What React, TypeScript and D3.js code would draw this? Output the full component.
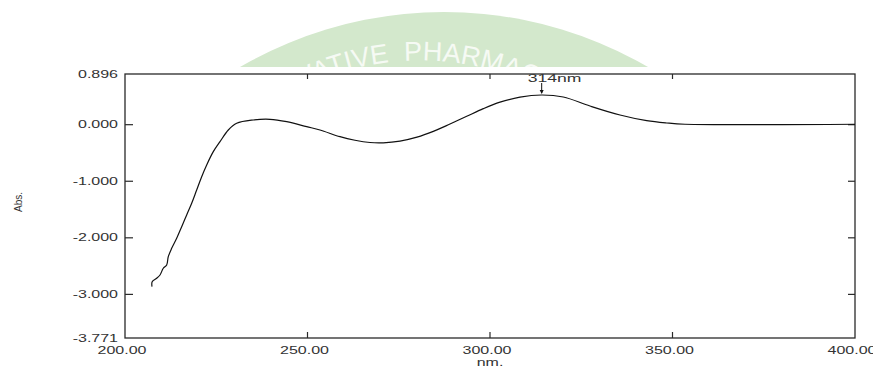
import React from 'react';
import * as d3 from 'd3';

// spectrum (wavelength nm / absorbance)
const wavelengths = [207.4, 207.45, 208.68, 209.59, 210.49, 211.42, 211.86, 212.79, 214.16, 215.53, 216.9, 218.27,
  219.64, 221.01, 222.38, 224.19, 226.03, 228.3, 230.6, 235.15, 239.73, 244.3, 249.78, 253.42, 258.9, 263.0, 267.12,
  270.77, 275.34, 280.0, 284.47, 289.04, 293.62, 298.16, 302.74, 308.22, 314.16, 320.08, 327.4, 335.62, 342.93,
  348.41, 353.42, 400];
const absorbance = [-2.864, -2.775, -2.715, -2.657, -2.538, -2.48, -2.333, -2.185, -2.008, -1.803, -1.596, -1.389,
  -1.154, -0.919, -0.712, -0.477, -0.3, -0.094, 0.025, 0.083, 0.095, 0.053, -0.035, -0.094, -0.212, -0.275, -0.315,
  -0.32, -0.29, -0.22, -0.118, 0.012, 0.148, 0.283, 0.398, 0.488, 0.525, 0.49, 0.33, 0.171, 0.071,
  0.03, 0.008, 0.008];

const xTicks = [200, 250, 300, 350, 400];
const yTicks = [0.896, 0, -1, -2, -3, -3.771];
const innerYTicks = [0, -1, -2, -3];
const innerXTicks = [250, 300, 350];
const peak = { nm: 314.16, abs: 0.525, label: '314nm' };

const width = 873;
const height = 366;
const margin = { top: 74, right: 18, bottom: 28, left: 125 };

export default function App() {
  const x = d3.scaleLinear().domain([200, 400]).range([margin.left, width - margin.right]);
  const y = d3.scaleLinear().domain([-3.771, 0.896]).range([height - margin.bottom, margin.top]);

  const pts: [number, number][] = wavelengths.map((w, i) => [w, absorbance[i]]);
  const line = d3.line<[number, number]>()
    .x(d => x(d[0]))
    .y(d => y(d[1]))
    .curve(d3.curveCatmullRom.alpha(0.5));

  const x0 = x(200), x1 = x(400), y0 = y(0.896), y1 = y(-3.771);
  const labelFont = 'Liberation Sans, Arial, sans-serif';
  const stretch = 'scale(1.6,1)';

  // watermark: green disc + text bent round an arc
  const wmCx = 444, wmCy = 418, wmR = 406;
  const tCx = 420, tCy = 331, tR = 270.5;
  const a0 = -26 * Math.PI / 180, a1 = 60 * Math.PI / 180;
  const arcD = `M${tCx + tR * Math.sin(a0)},${tCy - tR * Math.cos(a0)} A${tR},${tR} 0 0 1 ${tCx + tR * Math.sin(a1)},${tCy - tR * Math.cos(a1)}`;

  return (
    <svg width={width} height={height} style={{ position: 'absolute', left: 0, top: 0, background: '#fff' }}>
      <defs>
        <clipPath id="wm-clip">
          <rect x={0} y={0} width={width} height={67} />
        </clipPath>
        <path id="wm-arc" d={arcD} />
      </defs>

      <g clipPath="url(#wm-clip)">
        <circle cx={wmCx} cy={wmCy} r={wmR} fill="#d3e8cc" />
        <text fontFamily={labelFont} fontSize={27} fill="#f6faf4" style={{ whiteSpace: 'pre' }}>
          <textPath href="#wm-arc">VATIVE  PHARMAC</textPath>
        </text>
      </g>

      <rect x={x0} y={y0} width={x1 - x0} height={y1 - y0} fill="none" stroke="#2a2a2a" strokeWidth={1.3} />

      {innerYTicks.map(t => (
        <g key={'yt' + t} stroke="#2a2a2a" strokeWidth={1.2}>
          <line x1={x0} x2={x0 + 8} y1={y(t)} y2={y(t)} />
          <line x1={x1} x2={x1 - 7} y1={y(t)} y2={y(t)} />
        </g>
      ))}
      {innerXTicks.map(t => (
        <g key={'xt' + t} stroke="#2a2a2a" strokeWidth={1.2}>
          <line x1={x(t)} x2={x(t)} y1={y1} y2={y1 - 6} />
          <line x1={x(t)} x2={x(t)} y1={y0} y2={y0 + 5} />
        </g>
      ))}

      {yTicks.map(t => (
        <text key={'yl' + t} transform={`translate(118,${y(t) + 3.6}) ${stretch}`} textAnchor="end"
          fontFamily={labelFont} fontSize={10} fill="#333">
          {t.toFixed(3)}
        </text>
      ))}
      {xTicks.map(t => (
        <text key={'xl' + t} transform={`translate(${x(t) - 3},${y1 + 16}) ${stretch}`} textAnchor="middle"
          fontFamily={labelFont} fontSize={10} fill="#333">
          {t.toFixed(2)}
        </text>
      ))}
      <text transform={`translate(490,366) ${stretch}`} textAnchor="middle" fontFamily={labelFont} fontSize={10} fill="#333">nm.</text>
      <text transform="translate(22,202) rotate(-90)" textAnchor="middle" fontFamily={labelFont} fontSize={10} fill="#333">Abs.</text>

      <path d={line(pts) ?? ''} fill="none" stroke="#111" strokeWidth={1.2} />

      <line x1={x(peak.nm)} x2={x(peak.nm)} y1={y(peak.abs) - 12} y2={y(peak.abs) - 2} stroke="#111" strokeWidth={1} />
      <path d={`M${x(peak.nm) - 2},${y(peak.abs) - 5} L${x(peak.nm) + 2},${y(peak.abs) - 5} L${x(peak.nm)},${y(peak.abs) - 1} Z`} fill="#111" />
      <text transform={`translate(${x(peak.nm) - 14},${y(peak.abs) - 13}) ${stretch}`} fontFamily={labelFont}
        fontSize={11} fill="#333">{peak.label}</text>
    </svg>
  );
}
